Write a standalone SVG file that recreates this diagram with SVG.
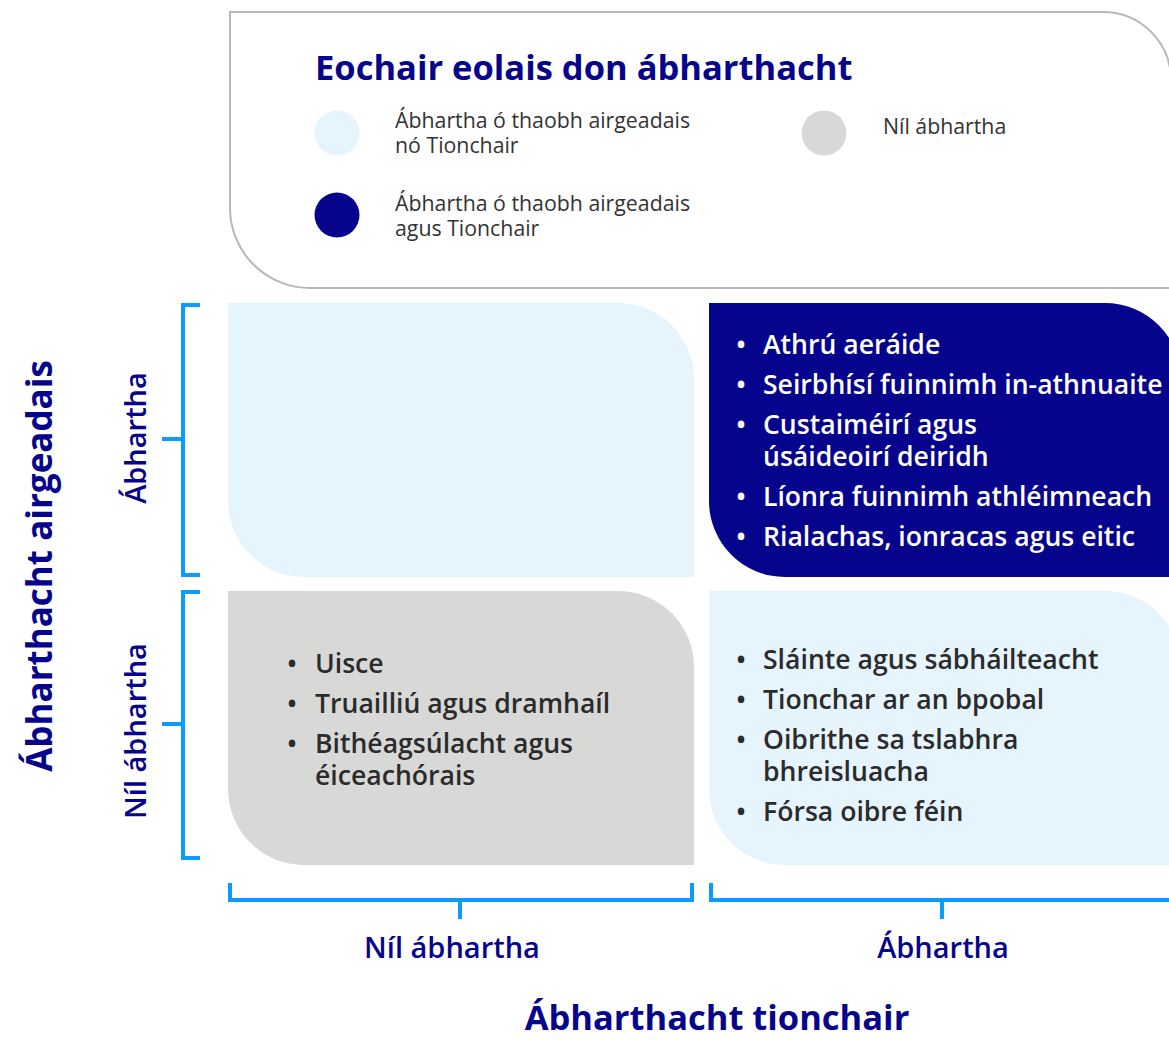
<svg xmlns="http://www.w3.org/2000/svg" width="1169" height="1040" viewBox="0 0 1169 1040">
<style>
.navy{fill:#06038d}
.light{fill:#e6f4fe}
.grey{fill:#d8d9d7}
.br{fill:none;stroke:#0a9cff;stroke-width:4}
.title{font-family:"Open Sans","Liberation Sans",sans-serif;font-weight:700;fill:#06038d}
.axis{font-family:"Open Sans","Liberation Sans",sans-serif;font-weight:600;font-size:29px;fill:#06038d}
.leg{font-family:"Open Sans","Liberation Sans",sans-serif;font-size:21.3px;fill:#333333}
.item{font-family:"Open Sans","Liberation Sans",sans-serif;font-weight:600;font-size:26.6px;fill:#2b2b2b}
.w{fill:#ffffff}
</style>
<rect width="1169" height="1040" fill="#ffffff"/>
<g id="legend">
<path d="M230,12 H1103 A68,68 0 0 1 1171,80 V288 H310 A80,80 0 0 1 230,208 Z" fill="#ffffff" stroke="#b8b8b8" stroke-width="2"/>
<text class="title" x="315" y="80" font-size="34.5">Eochair eolais don ábharthacht</text>
<circle cx="337" cy="133" r="22.5" class="light"/>
<text class="leg" x="395" y="128">Ábhartha ó thaobh airgeadais<tspan x="395" y="153">nó Tionchair</tspan></text>
<circle cx="824" cy="133" r="22.5" class="grey"/>
<text class="leg" x="883" y="134">Níl ábhartha</text>
<circle cx="337" cy="215" r="22.5" class="navy"/>
<text class="leg" x="395" y="211">Ábhartha ó thaobh airgeadais<tspan x="395" y="236">agus Tionchair</tspan></text>
</g>
<g id="q-top-left">
<path d="M228,303 H618 A76,76 0 0 1 694,379 V577 H304 A76,76 0 0 1 228,501 Z" class="light"/>
</g>
<g id="q-top-right">
<path d="M709,303 H1105 A76,76 0 0 1 1181,379 V577 H785 A76,76 0 0 1 709,501 Z" class="navy"/>
<text class="item w" x="736" y="354">•<tspan x="763">Athrú aeráide</tspan><tspan x="736" y="394">•</tspan><tspan x="763" y="394">Seirbhísí fuinnimh in-athnuaite</tspan><tspan x="736" y="434">•</tspan><tspan x="763" y="434">Custaiméirí agus</tspan><tspan x="763" y="466">úsáideoirí deiridh</tspan><tspan x="736" y="506">•</tspan><tspan x="763" y="506">Líonra fuinnimh athléimneach</tspan><tspan x="736" y="546">•</tspan><tspan x="763" y="546">Rialachas, ionracas agus eitic</tspan></text>
</g>
<g id="q-bottom-left">
<path d="M228,591 H618 A76,76 0 0 1 694,667 V865 H304 A76,76 0 0 1 228,789 Z" class="grey"/>
<text class="item" x="287" y="673">•<tspan x="315">Uisce</tspan><tspan x="287" y="713">•</tspan><tspan x="315" y="713">Truailliú agus dramhaíl</tspan><tspan x="287" y="753">•</tspan><tspan x="315" y="753">Bithéagsúlacht agus</tspan><tspan x="315" y="785">éiceachórais</tspan></text>
</g>
<g id="q-bottom-right">
<path d="M709,591 H1105 A76,76 0 0 1 1181,667 V865 H785 A76,76 0 0 1 709,789 Z" class="light"/>
<text class="item" x="736" y="669">•<tspan x="763">Sláinte agus sábháilteacht</tspan><tspan x="736" y="709">•</tspan><tspan x="763" y="709">Tionchar ar an bpobal</tspan><tspan x="736" y="749">•</tspan><tspan x="763" y="749">Oibrithe sa tslabhra</tspan><tspan x="763" y="781">bhreisluacha</tspan><tspan x="736" y="821">•</tspan><tspan x="763" y="821">Fórsa oibre féin</tspan></text>
</g>
<g id="connectors">
<path class="br" d="M200,305 H183 V575 H200 M183,439 H162"/>
<path class="br" d="M200,592 H183 V858 H200 M183,724 H162"/>
<path class="br" d="M230,883 V900 H692 V883 M460,900 V919"/>
<path class="br" d="M711,883 V900 H1175 M942,900 V919"/>
</g>
<g id="axis-labels">
<text class="axis" x="452" y="958" text-anchor="middle">Níl ábhartha</text>
<text class="axis" x="943" y="958" text-anchor="middle">Ábhartha</text>
<text class="title" x="717" y="1030" font-size="34.5" text-anchor="middle">Ábharthacht tionchair</text>
<text class="title" font-size="35" text-anchor="middle" transform="translate(52,566) rotate(-90)">Ábharthacht airgeadais</text>
<text class="axis" text-anchor="middle" transform="translate(146,438) rotate(-90)">Ábhartha</text>
<text class="axis" text-anchor="middle" transform="translate(146,731) rotate(-90)">Níl ábhartha</text>
</g>
</svg>
